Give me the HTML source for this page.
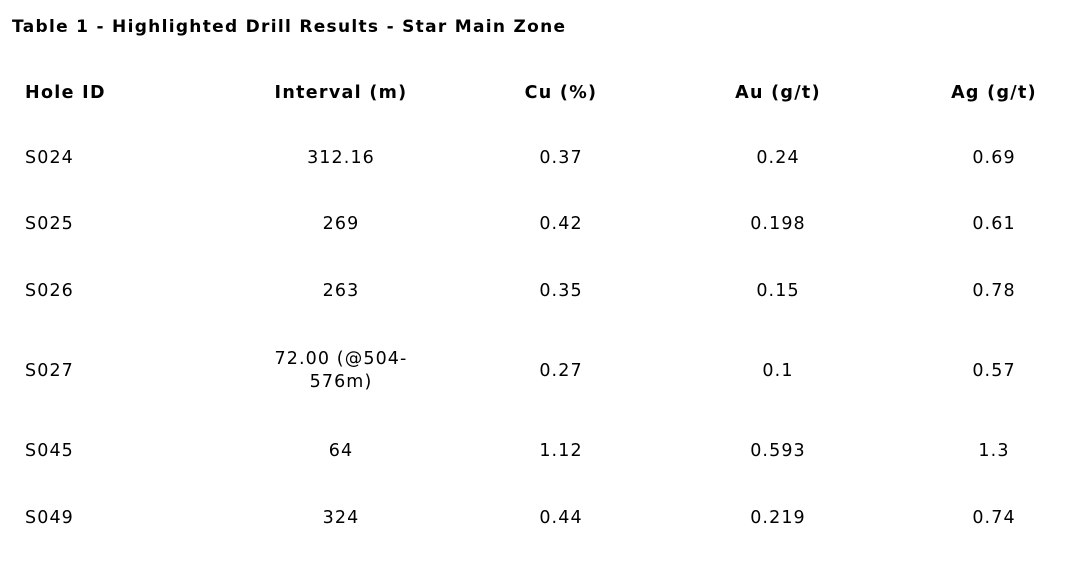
<!DOCTYPE html>
<html><head><meta charset="utf-8"><style>
body{margin:0;width:1071px;height:562px;background:#fff;font-family:"DejaVu Sans","Liberation Sans",sans-serif;color:#000;position:relative;overflow:hidden}
.t{position:absolute;font-size:17.5px;line-height:21px;white-space:nowrap;letter-spacing:1.1px}
.b{font-weight:bold;letter-spacing:1.3px}
.c{transform:translateX(-50%);text-align:center}
</style></head><body>
<div class="t b" style="left:12px;top:17px;font-size:17px;letter-spacing:1.3px">Table 1 - Highlighted Drill Results - Star Main Zone</div>

<div class="t b" style="left:25px;top:83px">Hole ID</div>
<div class="t b c" style="left:341px;top:83px">Interval (m)</div>
<div class="t b c" style="left:561px;top:83px">Cu (%)</div>
<div class="t b c" style="left:778px;top:83px">Au (g/t)</div>
<div class="t b c" style="left:994px;top:83px">Ag (g/t)</div>

<div class="t" style="left:25px;top:148px">S024</div>
<div class="t c" style="left:341px;top:148px">312.16</div>
<div class="t c" style="left:561px;top:148px">0.37</div>
<div class="t c" style="left:778px;top:148px">0.24</div>
<div class="t c" style="left:994px;top:148px">0.69</div>

<div class="t" style="left:25px;top:214px">S025</div>
<div class="t c" style="left:341px;top:214px">269</div>
<div class="t c" style="left:561px;top:214px">0.42</div>
<div class="t c" style="left:778px;top:214px">0.198</div>
<div class="t c" style="left:994px;top:214px">0.61</div>

<div class="t" style="left:25px;top:281px">S026</div>
<div class="t c" style="left:341px;top:281px">263</div>
<div class="t c" style="left:561px;top:281px">0.35</div>
<div class="t c" style="left:778px;top:281px">0.15</div>
<div class="t c" style="left:994px;top:281px">0.78</div>

<div class="t" style="left:25px;top:361px">S027</div>
<div class="t c" style="left:341px;top:348px;line-height:23px">72.00 (@504-<br>576m)</div>
<div class="t c" style="left:561px;top:361px">0.27</div>
<div class="t c" style="left:778px;top:361px">0.1</div>
<div class="t c" style="left:994px;top:361px">0.57</div>

<div class="t" style="left:25px;top:441px">S045</div>
<div class="t c" style="left:341px;top:441px">64</div>
<div class="t c" style="left:561px;top:441px">1.12</div>
<div class="t c" style="left:778px;top:441px">0.593</div>
<div class="t c" style="left:994px;top:441px">1.3</div>

<div class="t" style="left:25px;top:508px">S049</div>
<div class="t c" style="left:341px;top:508px">324</div>
<div class="t c" style="left:561px;top:508px">0.44</div>
<div class="t c" style="left:778px;top:508px">0.219</div>
<div class="t c" style="left:994px;top:508px">0.74</div>
</body></html>
